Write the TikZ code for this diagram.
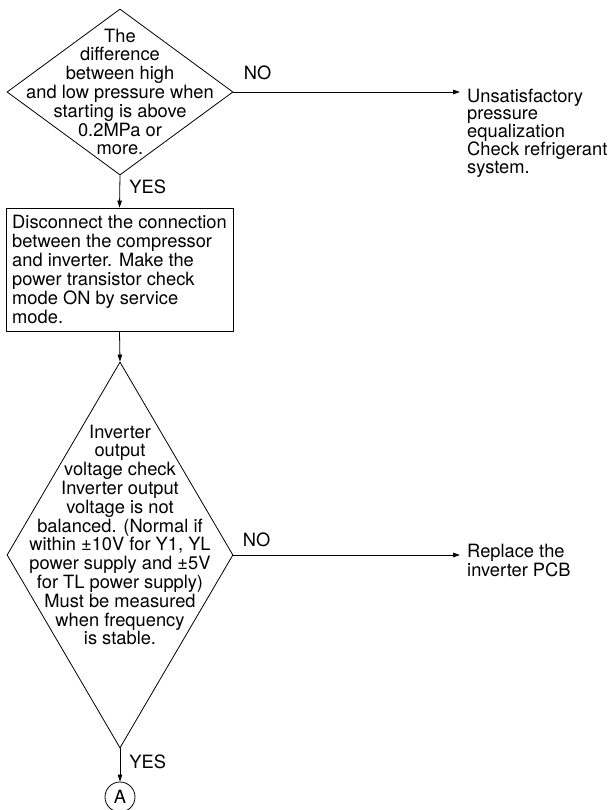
\documentclass[tikz,border=0pt]{standalone}
\usepackage{fontspec}
\setmainfont{TeX Gyre Heros}
\usetikzlibrary{arrows.meta,shapes.geometric}
\tikzset{
  >={Stealth[length=7pt,width=4.5pt,inset=0pt]},
  txtfont/.style={font=\fontsize{18.3}{18.8}\selectfont},
  decbox/.style={diamond,draw=black,line width=0.8pt,inner sep=0pt,aspect=1},
  dectxt/.style={txtfont,align=center,inner sep=0pt},
  procbox/.style={font=\fontsize{18.3}{19}\selectfont,draw=black,line width=0.8pt,
    align=left,inner xsep=4pt,inner ysep=0pt,minimum width=227pt,minimum height=123pt},
  outtxt/.style={font=\fontsize{18.3}{17.6}\selectfont,align=left,
    anchor=north west,inner xsep=7pt,inner ysep=0pt},
  flow/.style={->,line width=0.8pt},
  flowlbl/.style={txtfont,anchor=base west,inner sep=0pt},
  connpt/.style={txtfont,circle,draw=black,line width=0.8pt,
    minimum size=30pt,inner sep=0pt},
}
\begin{document}
\begin{tikzpicture}[x=1pt,y=-1pt]
  \useasboundingbox (0,0) rectangle (612,810);
  % first check
  \node[decbox,minimum width=226pt,minimum height=166pt] (d1) at (120,92) {};
  \node[dectxt] (d1txt) at (d1.center) {The\\difference\\between high\\and low pressure when\\starting is above\\0.2MPa or\\more.};
  \node[outtxt] (unsat) at (460,88.5) {Unsatisfactory\\pressure\\equalization\\Check refrigerant\\system.};
  % service mode box
  \node[procbox] (svc) at (119.5,269.5) {Disconnect the connection\\between the compressor\\and inverter. Make the\\power transistor check\\mode ON by service\\mode.};
  % second check
  \node[decbox,minimum width=226pt,minimum height=386pt] (d2) at (120,555) {};
  \node[dectxt] (d2txt) at (120,535) {Inverter\\output\\voltage check\\Inverter output\\voltage is not\\balanced. (Normal if\\within ±10V for Y1, YL\\power supply and ±5V\\for TL power supply)\\Must be measured\\when frequency\\is stable.};
  \node[outtxt] (repl) at (460,544) {Replace the\\inverter PCB};
  \node[connpt] (ca) at (120,797) {A};

  \draw[flow] (d1.east) -- node[flowlbl,at start,xshift=10pt,yshift=12pt] (no1) {NO} (d1.east -| unsat.west);
  \draw[flow] (d1.south) -- node[flowlbl,at start,xshift=9pt,yshift=-17.7pt] (yes1) {YES} (svc.north);
  \draw[flow] (svc.south) -- (d2.north);
  \draw[flow] (d2.east) -- node[flowlbl,at start,xshift=9pt,yshift=8.5pt] (no2) {NO} (d2.east -| repl.west);
  \draw[flow] (d2.south) -- node[flowlbl,at start,xshift=9pt,yshift=-20pt] (yes2) {YES} (ca.north);
\end{tikzpicture}
\end{document}
